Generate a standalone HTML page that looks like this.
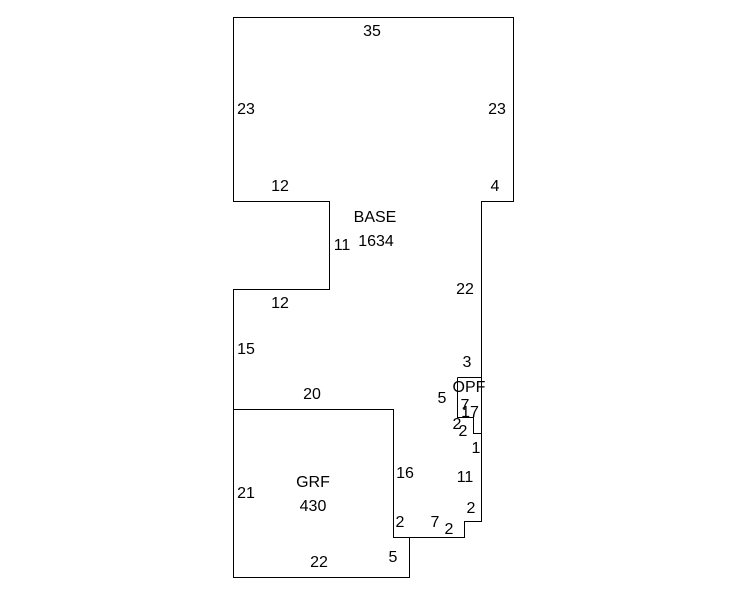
<!DOCTYPE html><html><head><style>body{margin:0;background:#fff}svg text{font-family:"Liberation Sans",sans-serif;font-size:16px;fill:#000}</style></head><body>
<svg width="746" height="595" xmlns="http://www.w3.org/2000/svg">
<g fill="none" stroke="#000" stroke-width="1">
<path d="M233.5 17.5H513.5V201.5H481.5V521.5H464.5V537.5H409.5V577.5H233.5V289.5H329.5V201.5H233.5Z"/>
<path d="M233.5 409.5H393.5V537.5H409.5"/>
<path d="M457.5 377.5H481.5M457.5 377.5V417.5H473.5V433.5H481.5"/>
</g>
<g text-anchor="middle">
<text x="372" y="36">35</text>
<text x="246" y="114">23</text>
<text x="497" y="114">23</text>
<text x="280" y="191">12</text>
<text x="495" y="191">4</text>
<text x="375" y="222">BASE</text>
<text x="376" y="246">1634</text>
<text x="342" y="250">11</text>
<text x="465" y="294">22</text>
<text x="280" y="308">12</text>
<text x="246" y="354">15</text>
<text x="467" y="367">3</text>
<text x="469" y="392">OPF</text>
<text x="442" y="403">5</text>
<text x="312" y="399">20</text>
<text x="465" y="410">7</text>
<text x="470" y="417">17</text>
<text x="457" y="429">2</text>
<text x="463" y="436">2</text>
<text x="476" y="453">1</text>
<text x="405" y="478">16</text>
<text x="465" y="482">11</text>
<text x="313" y="487">GRF</text>
<text x="246" y="498">21</text>
<text x="313" y="511">430</text>
<text x="471" y="513">2</text>
<text x="400" y="527">2</text>
<text x="435" y="527">7</text>
<text x="449" y="534">2</text>
<text x="393" y="562">5</text>
<text x="319" y="567">22</text>
</g>
</svg></body></html>
